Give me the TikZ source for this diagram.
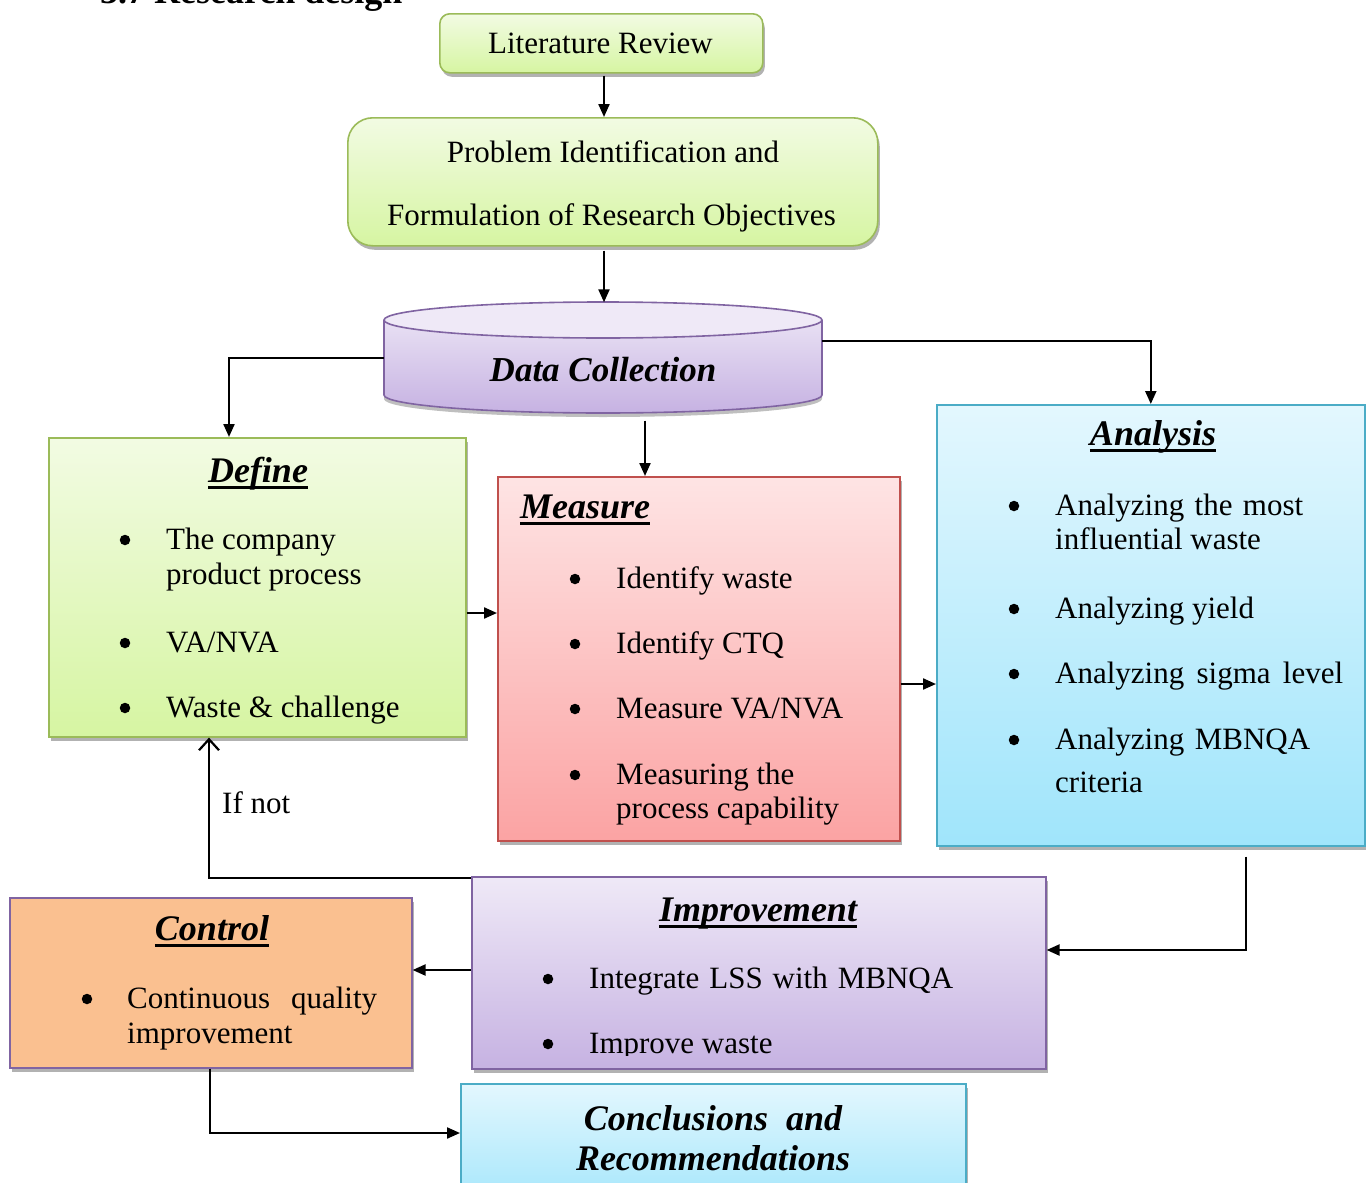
\documentclass[tikz,border=0pt]{standalone}
\usepackage{fontspec}
\setmainfont{Liberation Serif}
\usetikzlibrary{arrows.meta,shadows}

\definecolor{grnTop}{HTML}{F2FBE3}
\definecolor{grnBot}{HTML}{D6F5A2}
\definecolor{grnLine}{HTML}{9BBB59}
\definecolor{redTop}{HTML}{FEE4E4}
\definecolor{redBot}{HTML}{FBA3A3}
\definecolor{redLine}{HTML}{C0504D}
\definecolor{bluTop}{HTML}{E3F7FE}
\definecolor{bluBot}{HTML}{A0E5FB}
\definecolor{bluLine}{HTML}{4BACC6}
\definecolor{prpTop}{HTML}{EFE9F7}
\definecolor{prpBot}{HTML}{C6B2E2}
\definecolor{prpLine}{HTML}{8064A2}
\definecolor{orgFill}{HTML}{FAC090}

% bold italic heading with a heavy underline
\newcommand\steptitle[1]{\setbox0\hbox{\fontsize{36}{40}\selectfont\bfseries\itshape #1}\rlap{\rule[-7pt]{\wd0}{3.5pt}}\box0}

\begin{document}
\begin{tikzpicture}[x=1pt,y=-1pt,
  box/.style={draw, line width=1.6pt, anchor=north west, inner sep=0pt,
    drop shadow={shadow xshift=2pt, shadow yshift=-4pt, fill=black, opacity=.3}},
  greenbox/.style={box, draw=grnLine, top color=grnTop, bottom color=grnBot},
  redbox/.style={box, draw=redLine, top color=redTop, bottom color=redBot},
  bluebox/.style={box, draw=bluLine, top color=bluTop, bottom color=bluBot},
  purplebox/.style={box, draw=prpLine, top color=prpTop, bottom color=prpBot},
  orangebox/.style={box, draw=prpLine, fill=orgFill},
  body/.style={anchor=base west, inner sep=0pt, font=\fontsize{31}{35}\selectfont},
  bodyc/.style={body, anchor=base},
  bul/.style={circle, fill=black, inner sep=0pt, minimum size=10.5pt},
  ttl/.style={anchor=base, inner sep=0pt},
  bigit/.style={anchor=base, inner sep=0pt, font=\fontsize{36}{40}\selectfont\bfseries\itshape},
  arr/.style={line width=2.2pt, -{Triangle[length=13pt,width=11pt]}},
  openarr/.style={line width=2.2pt, -{Straight Barb[length=11pt,width=20pt,line width=2.2pt]}},
  plain/.style={line width=2.2pt}
]
\clip (0,0) rectangle (1366,1183);
\useasboundingbox (0,0) rectangle (1366,1183);

% section heading, cut by the top edge
\node[anchor=base west, inner sep=0pt, font=\fontsize{36}{40}\selectfont\bfseries] (hdg) at (100,3) {3.7 Research design};

% ---- top of the flow
\node[greenbox, rounded corners=10pt, minimum width=323pt, minimum height=59pt] (lit) at (439,13) {};
\node[bodyc] (litT) at (600.5,53) {Literature Review};

\node[greenbox, rounded corners=25pt, minimum width=530pt, minimum height=128pt] (prob) at (347,117) {};
\node[bodyc] (probA) at (613,162) {Problem Identification and};
\node[bodyc] (probB) at (611.5,225) {Formulation of Research Objectives};

% ---- data collection cylinder
\fill[black, opacity=.25] (384,324) -- (384,399) arc[start angle=180, end angle=360, x radius=219pt, y radius=18pt] -- (822,324) -- cycle;
\shade[top color=prpTop, bottom color=prpBot] (384,320) -- (384,395) arc[start angle=180, end angle=360, x radius=219pt, y radius=18pt] -- (822,320) arc[start angle=0, end angle=180, x radius=219pt, y radius=18pt] -- cycle;
\draw[prpLine, line width=1.6pt] (384,320) -- (384,395) arc[start angle=180, end angle=360, x radius=219pt, y radius=18pt] -- (822,320);
\draw[prpLine, line width=1.6pt, fill=prpTop] (603,320) ellipse[x radius=219pt, y radius=18pt];
\node[inner sep=0pt, minimum width=438pt, minimum height=111pt] (dc) at (603,358) {};
\node[anchor=base, inner sep=0pt, font=\fontsize{35}{40}\selectfont\bfseries\itshape] (dcT) at (603,381) {Data Collection};

% ---- Define
\node[greenbox, minimum width=417pt, minimum height=299pt] (def) at (48,437) {};
\node[ttl] (defT) at (258,482) {\steptitle{Define}};
\node[bul] (defB1) at (125,540) {};
\node[body] (defI1) at (166,549) {The company};
\node[body] (defI1b) at (166,584) {product process};
\node[bul] (defB2) at (125,643) {};
\node[body] (defI2) at (166,652) {VA/NVA};
\node[bul] (defB3) at (125,708) {};
\node[body] (defI3) at (166,717) {Waste \& challenge};

% ---- Measure
\node[redbox, minimum width=402pt, minimum height=364pt] (mea) at (497,476) {};
\node[ttl, anchor=base west] (meaT) at (520,518) {\steptitle{Measure}};
\node[bul] (meaB1) at (575,579) {};
\node[body] (meaI1) at (616,588) {Identify waste};
\node[bul] (meaB2) at (575,644) {};
\node[body] (meaI2) at (616,653) {Identify CTQ};
\node[bul] (meaB3) at (575,709) {};
\node[body] (meaI3) at (616,718) {Measure VA/NVA};
\node[bul] (meaB4) at (575,775) {};
\node[body] (meaI4) at (616,784) {Measuring the};
\node[body] (meaI4b) at (616,818) {process capability};

% ---- Analysis
\node[bluebox, minimum width=428pt, minimum height=441pt] (ana) at (936,404) {};
\node[ttl] (anaT) at (1153,445) {\steptitle{Analysis}};
\node[bul] (anaB1) at (1014,506) {};
\node[body] (anaI1) at (1055,515) {\makebox[248pt][s]{Analyzing the most}};
\node[body] (anaI1b) at (1055,549) {influential waste};
\node[bul] (anaB2) at (1014,609) {};
\node[body] (anaI2) at (1055,618) {Analyzing yield};
\node[bul] (anaB3) at (1014,674) {};
\node[body] (anaI3) at (1055,683) {\makebox[288pt][s]{Analyzing sigma level}};
\node[bul] (anaB4) at (1014,740) {};
\node[body] (anaI4) at (1055,749) {\makebox[255pt][s]{Analyzing MBNQA}};
\node[body] (anaI4b) at (1055,792) {criteria};

% ---- Improvement
\node[purplebox, minimum width=574pt, minimum height=192pt] (imp) at (471,876) {};
\node[ttl] (impT) at (758,921) {\steptitle{Improvement}};
\node[bul] (impB1) at (548,979) {};
\node[body] (impI1) at (589,988) {\makebox[364pt][s]{Integrate LSS with MBNQA}};
\begin{scope}
  \clip (471,1000) rectangle (1045,1055);
  \node[bul] (impB2) at (548,1044) {};
  \node[body] (impI2) at (589,1053) {Improve waste};
\end{scope}

% ---- Control
\node[orangebox, minimum width=402pt, minimum height=170pt] (ctl) at (9,897) {};
\node[ttl] (ctlT) at (212,940) {\steptitle{Control}};
\node[bul] (ctlB1) at (87,999) {};
\node[body] (ctlI1) at (127,1008) {\makebox[250pt][s]{Continuous quality}};
\node[body] (ctlI1b) at (127,1043) {improvement};

% ---- Conclusions
\node[bluebox, minimum width=505pt, minimum height=130pt] (con) at (460,1083) {};
\node[bigit] (conA) at (713,1130) {Conclusions\ \ and};
\node[bigit] (conB) at (713,1170) {Recommendations};

% ---- connector guide points
\coordinate (xMain) at (604,0);
\coordinate (xDef) at (229,0);
\coordinate (xMea) at (645,0);
\coordinate (yDM) at (0,613);
\coordinate (yMA) at (0,684);
\coordinate (xAI) at (1246,0);
\coordinate (yAI) at (0,950);
\coordinate (yIC) at (0,970);
\coordinate (yLoop) at (0,878);
\coordinate (xLoop) at (209,0);
\coordinate (xCtl) at (210,0);
\coordinate (yCon) at (0,1133);

% ---- connectors
\draw[arr] ([yshift=-2pt]lit.south -| xMain) -- (prob.north -| xMain);
\draw[arr] ([yshift=-4pt]prob.south -| xMain) -- (dc.north -| xMain);
\draw[arr] (dc.west) -| (def.north -| xDef);
\draw[arr] ([yshift=17pt]dc.east) -| (ana.north);
\draw[arr] ([yshift=-7pt]dc.south -| xMea) -- (mea.north -| xMea);
\draw[arr] (def.east |- yDM) -- (mea.west |- yDM);
\draw[arr] (mea.east |- yMA) -- (ana.west |- yMA);
\draw[arr] ([yshift=-10pt]ana.south -| xAI) |- (imp.east |- yAI);
\draw[arr] (imp.west |- yIC) -- (ctl.east |- yIC);
\draw[openarr] (imp.west |- yLoop) -| (def.south -| xLoop);
\node[body] (ifnot) at (222,813) {If not};
\draw[arr] (ctl.south -| xCtl) |- (con.west |- yCon);

\end{tikzpicture}
\end{document}
